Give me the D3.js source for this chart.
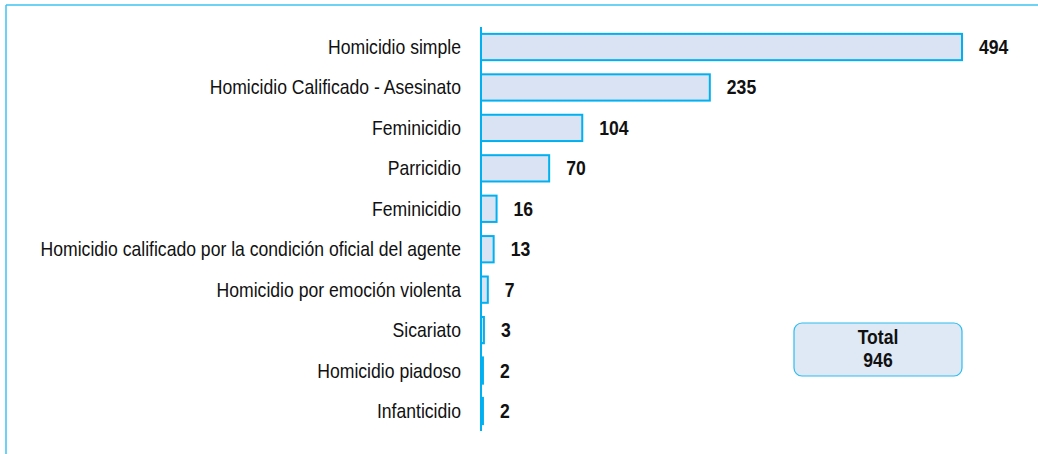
<!DOCTYPE html>
<html>
<head>
<meta charset="utf-8">
<script src="https://cdn.jsdelivr.net/npm/d3@7"></script>
<style>
  body { margin: 0; background: #fff; }
  svg text { font-family: "Liberation Sans", Arial, sans-serif; }
</style>
</head>
<body>
<div id="container"></div>
<script>
/* DATA */
const categories = [
  "Homicidio simple",
  "Homicidio Calificado - Asesinato",
  "Feminicidio",
  "Parricidio",
  "Feminicidio",
  "Homicidio calificado por la condición oficial del agente",
  "Homicidio por emoción violenta",
  "Sicariato",
  "Homicidio piadoso",
  "Infanticidio"
];
const values = [494, 235, 104, 70, 16, 13, 7, 3, 2, 2];
const totalLabel = "Total";
const totalValue = 946;

/* CONSTANTS */
const width = 1038,
      height = 454,
      margin = {top: 27, bottom: 23, left: 481, right: 76},
      fontSize = 20,
      squeeze = 0.88; // the original font is a narrow face

const blue = "#00b0f0";

const svg = d3.select("#container")
  .append("svg")
  .attr("width", width)
  .attr("height", height);

// frame (top and left edge only)
svg.append("line")
  .attr("x1", 6).attr("x2", width)
  .attr("y1", 5).attr("y2", 5)
  .attr("stroke", "#3cc3f2").attr("stroke-width", 1.5);
svg.append("line")
  .attr("x1", 6).attr("x2", 6)
  .attr("y1", 5).attr("y2", height)
  .attr("stroke", "#3cc3f2").attr("stroke-width", 1.5);

// scales
const xScale = d3.scaleLinear()
  .domain([0, 494])
  .range([margin.left, 962]);

const yScale = d3.scaleBand()
  .domain(d3.range(categories.length))
  .range([margin.top, height - margin.bottom])
  .paddingInner(0.35)
  .paddingOuter(0.17);

const midY = i => yScale(i) + yScale.bandwidth() / 2;

// bars
svg.selectAll("rect.bar")
  .data(values)
  .join("rect")
  .attr("class", "bar")
  .attr("x", xScale(0))
  .attr("y", (d, i) => yScale(i))
  .attr("width", d => xScale(d) - xScale(0))
  .attr("height", yScale.bandwidth())
  .attr("fill", "#dae3f3")
  .attr("stroke", blue)
  .attr("stroke-width", 2);

// category labels
svg.selectAll("text.cat")
  .data(categories)
  .join("text")
  .attr("class", "cat")
  .attr("transform", (d, i) => `translate(461,${midY(i)}) scale(${squeeze},1)`)
  .attr("dy", "0.35em")
  .attr("text-anchor", "end")
  .attr("font-size", fontSize)
  .attr("fill", "#111")
  .text(d => d);

// value labels
svg.selectAll("text.val")
  .data(values)
  .join("text")
  .attr("class", "val")
  .attr("transform", (d, i) => `translate(${xScale(d) + 17},${midY(i)}) scale(${squeeze},1)`)
  .attr("dy", "0.35em")
  .attr("font-size", fontSize)
  .attr("font-weight", "bold")
  .attr("fill", "#111")
  .text(d => d);

// y axis line
svg.append("line")
  .attr("x1", margin.left).attr("x2", margin.left)
  .attr("y1", margin.top).attr("y2", height - margin.bottom)
  .attr("stroke", blue)
  .attr("stroke-width", 2);

// total box
const box = svg.append("g").attr("transform", "translate(794,323)");
box.append("rect")
  .attr("width", 168).attr("height", 53)
  .attr("rx", 8).attr("ry", 8)
  .attr("fill", "#dee9f5")
  .attr("stroke", "#2dbcf0")
  .attr("stroke-width", 1.2);
box.append("text")
  .attr("transform", `translate(84,21) scale(${squeeze},1)`)
  .attr("text-anchor", "middle")
  .attr("font-size", fontSize).attr("font-weight", "bold")
  .attr("fill", "#111")
  .text(totalLabel);
box.append("text")
  .attr("transform", `translate(84,44) scale(${squeeze},1)`)
  .attr("text-anchor", "middle")
  .attr("font-size", fontSize).attr("font-weight", "bold")
  .attr("fill", "#111")
  .text(totalValue);
</script>
</body>
</html>
